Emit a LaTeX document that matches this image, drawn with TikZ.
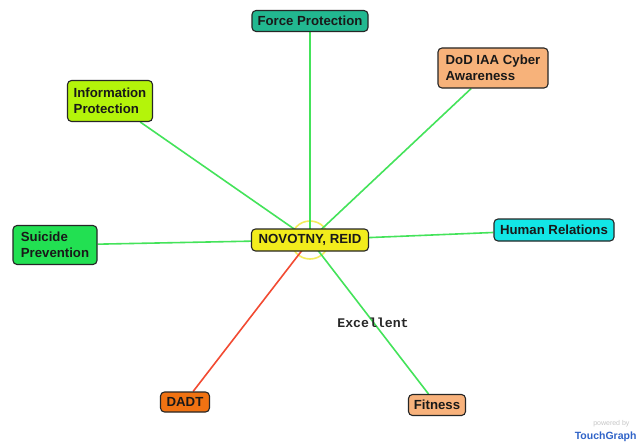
\documentclass[tikz,border=0pt]{standalone}
\usepackage{fontspec}
\usetikzlibrary{backgrounds}
\setmainfont{Liberation Sans}
\newfontfamily\monofont{Liberation Mono}
\definecolor{linkgreen}{HTML}{44E35A}
\definecolor{linkred}{HTML}{F24A32}
\definecolor{cForce}{HTML}{22B890}
\definecolor{cDod}{HTML}{F7B27A}
\definecolor{cInfo}{HTML}{B4F40A}
\definecolor{cSuicide}{HTML}{22E052}
\definecolor{cHuman}{HTML}{12E6E6}
\definecolor{cCenter}{HTML}{F2EC1C}
\definecolor{cDadt}{HTML}{F07212}
\definecolor{cFit}{HTML}{F8B27C}
\definecolor{cHalo}{HTML}{F4EC5A}
\definecolor{cBrand}{HTML}{2F63C8}
\begin{document}
\begin{tikzpicture}[x=1pt,y=-1pt,
  topic/.style={draw=black!85, line width=1.1pt, rounded corners=4pt,
    font=\bfseries\fontsize{13.2}{16}\selectfont, align=left,
    inner xsep=5pt, inner ysep=2pt, text=black!90},
  link/.style={linkgreen, line width=1.6pt},
  badlink/.style={linkred, line width=1.6pt}]
\useasboundingbox (0,0) rectangle (639,444);

% topic nodes
\node[topic, fill=cForce, minimum width=116pt, minimum height=21pt] (force) at (310,21) {Force Protection};
\node[topic, fill=cDod, minimum width=110pt, minimum height=40pt] (dod) at (493,68) {DoD IAA Cyber\\Awareness};
\node[topic, fill=cInfo, minimum width=85pt, minimum height=41pt] (info) at (110,101) {Information\\Protection};
\node[topic, fill=cSuicide, minimum width=84pt, minimum height=39pt] (suicide) at (55,245) {Suicide\\Prevention};
\node[topic, fill=cHuman, minimum width=120pt, minimum height=22pt] (human) at (554,230) {Human Relations};
\node[topic, fill=cDadt, minimum width=49pt, minimum height=20pt] (dadt) at (185,402) {DADT};
\node[topic, fill=cFit, minimum width=57pt, minimum height=21pt] (fit) at (437,405) {Fitness};
\node[topic, fill=cCenter, minimum width=117pt, minimum height=22pt] (center) at (310,240) {NOVOTNY, REID};

% halo and connectors behind the nodes
\begin{scope}[on background layer]
  \fill[white] (0,0) rectangle (639,444);
  \draw[cHalo, line width=1.6pt] (center.center) circle (19);
  \draw[link] (center.center) -- (force);
  \draw[link] (center.center) -- (dod);
  \draw[link] (center.center) -- (info);
  \draw[link] (center.center) -- (suicide);
  \draw[link] (center.center) -- (human);
  \draw[badlink] (center.center) -- (dadt);
  \draw[link] (center.center) -- (fit);
\end{scope}

% edge label
\node[text=black!85, font=\monofont\bfseries\fontsize{13.2}{13}\selectfont] (grade) at (373,323) {Excellent};

% branding
\node[text=black!22, font=\fontsize{7}{8}\selectfont, anchor=east] (powered) at (633,424) {powered by};
\node[text=cBrand, font=\bfseries\fontsize{10.5}{11}\selectfont, anchor=east] (brand) at (640,437) {TouchGraph};
\end{tikzpicture}
\end{document}
